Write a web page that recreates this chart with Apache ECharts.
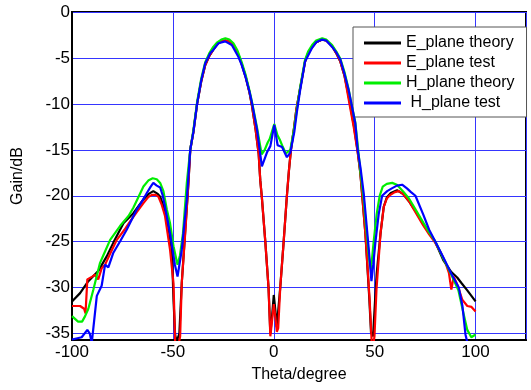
<!DOCTYPE html>
<html>
<head>
<meta charset="utf-8">
<script src="https://cdn.jsdelivr.net/npm/echarts@6/dist/echarts.min.js"></script>
<style>
  html, body { margin: 0; padding: 0; background: #fff; }
  #chart { width: 531px; height: 390px; }
</style>
</head>
<body>
<div id="chart"></div>
<script>
// [theta (deg), gain (dB)]
const ePlaneTheory = [
  [-100, -31.5], [-96, -30.6], [-91.9, -29.3], [-87, -28.2], [-82.8, -26.6], [-79.5, -25.1],
  [-74.5, -23.0], [-69.6, -21.9], [-64.6, -20.4], [-62, -19.8], [-59.7, -19.5], [-57.5, -19.8],
  [-56.3, -20.1], [-53, -22.2], [-51.5, -24.5], [-50.5, -25.9], [-49.7, -31.3], [-48.9, -35.1],
  [-48.2, -35.9], [-46.8, -35.0], [-45.6, -29.5], [-44, -24.2], [-42.3, -18.6], [-41.4, -15],
  [-39.8, -13], [-38, -10], [-36, -7.6], [-34, -5.8], [-32, -4.8], [-30, -4.1], [-28, -3.5],
  [-26, -3.2], [-24, -3.1], [-22, -3.2], [-20, -3.6], [-18, -4.4], [-16, -5.6], [-14, -7.0],
  [-12, -8.8], [-10.8, -10.2], [-9, -12.8], [-7.5, -15.4], [-6.7, -18.3], [-5.9, -20.2],
  [-4.2, -25], [-2.6, -30], [-1.7, -35.0], [-0.8, -33.0], [0, -30.8], [0.8, -32.5],
  [1.5, -34.3], [2.2, -34.2], [3.2, -30], [4.9, -25], [6.5, -20], [7.5, -17.3], [8.5, -15],
  [10, -12.7], [11.2, -10.6], [13, -8.4], [15.5, -5.4], [17, -4.5], [19, -3.8], [21, -3.3],
  [24, -3.0], [26, -3.1], [28.9, -3.7], [31, -4.5], [33, -5.4], [35, -6.9], [36.5, -8.5],
  [37.8, -10], [39.8, -12.5], [41.6, -15.2], [42.9, -17.5], [45.4, -24.1], [47.3, -31.0],
  [48.2, -34.9], [49.2, -35.3], [50.3, -31.0], [51, -28.5], [52.9, -24.1], [54.5, -21.2],
  [56, -20.2], [58, -19.7], [61.1, -19.4], [64, -19.8], [67, -20.6], [70, -21.6], [74, -23.0],
  [77, -24.0], [80, -25.0], [84, -27.0], [88, -28.3], [90.9, -28.9], [93, -29.5], [95.9, -30.3],
  [100, -31.5]
];
const ePlaneTest = [
  [-100, -32.0], [-96, -32.0], [-94, -32.3], [-93.3, -32.8], [-92.4, -29.1], [-90, -28.8],
  [-88.6, -28.6], [-87, -29.1], [-85.3, -27.9], [-83.6, -27.5], [-80, -25.8], [-77.8, -24.8],
  [-74, -23.7], [-71.2, -22.8], [-68, -21.8], [-64.6, -20.8], [-62, -20.1], [-60.4, -19.9],
  [-58.5, -19.9], [-57.2, -20.1], [-55.5, -21.0], [-53.9, -22.2], [-51.4, -25.9], [-49.7, -29.5],
  [-48.9, -35.8], [-47.5, -36.5], [-46.4, -35.3], [-45.6, -29.5], [-43.9, -24.1], [-42.3, -18.6],
  [-41.4, -15], [-39.8, -13], [-38, -10], [-36, -7.6], [-34, -5.8], [-32, -4.8], [-30, -4.1],
  [-28, -3.5], [-26, -3.2], [-24, -3.1], [-22, -3.2], [-20, -3.6], [-18, -4.4], [-16, -5.6],
  [-14, -7.0], [-12, -8.8], [-10.8, -10.2], [-9, -12.8], [-7.5, -15.4], [-6.7, -18.3],
  [-5.9, -20.2], [-4.2, -25], [-2.6, -30], [-1.7, -35.3], [-0.8, -33.5], [0, -31.8],
  [0.8, -33.2], [1.5, -34.8], [2.2, -34.4], [3.2, -30], [4.9, -25], [6.5, -20], [7.5, -17.3],
  [8.5, -15], [10, -12.7], [11.2, -10.6], [13, -8.4], [15.5, -5.4], [17, -4.5], [19, -3.8],
  [21, -3.3], [24, -3.0], [26, -3.1], [28.9, -3.7], [31, -4.5], [33, -5.4], [35, -6.9],
  [36.3, -8.5], [37.5, -10], [39.6, -12.5], [41.6, -15.3], [42.9, -17.5], [45.4, -24.1],
  [47.5, -31.3], [48.5, -35.8], [49.2, -36.5], [49.9, -35.3], [50.9, -30.2], [52.9, -24.1],
  [54.5, -21.2], [56, -20.3], [57.8, -19.9], [60, -19.6], [62, -19.5], [64, -19.8], [67, -20.6],
  [70, -21.7], [74, -23.2], [77, -24.2], [80, -25.1], [83, -26.3], [85.1, -27.3], [86.8, -28.4],
  [88, -30.2], [89.2, -28.8], [91, -29.7], [93.4, -31.3], [95.9, -32.0], [98, -32.1], [100, -32.6]
];
const hPlaneTheory = [
  [-100, -33.1], [-97, -33.7], [-95, -33.7], [-93.5, -33.1], [-91.9, -32.3], [-89.4, -30.2],
  [-86.1, -27.3], [-84.5, -26.5], [-81.1, -24.8], [-76.2, -23.3], [-72, -22.2], [-69.6, -21.3],
  [-67, -20.1], [-64.6, -19.0], [-62, -18.3], [-60, -18.1], [-58, -18.2], [-56.3, -18.6],
  [-54.7, -19.5], [-53, -21.5], [-51.4, -23.0], [-49.7, -25.5], [-47.7, -27.5], [-46.5, -26.5],
  [-45, -24.1], [-43.1, -18.6], [-41.4, -15], [-39.8, -12.8], [-38, -9.8], [-36, -7.3],
  [-34, -5.5], [-32, -4.5], [-30, -3.8], [-28, -3.3], [-26, -3.0], [-24, -2.85], [-22, -3.0],
  [-20, -3.4], [-18, -4.2], [-16, -5.4], [-14, -6.8], [-12, -8.6], [-10.8, -9.8], [-8.3, -12.6],
  [-6, -15.5], [-4.5, -15.0], [-3, -14.2], [-2, -13.8], [0.25, -12.2], [1.8, -13.4], [3, -13.9],
  [4.5, -14.7], [6, -15.4], [8.2, -15.0], [10, -12.8], [11.5, -10.5], [13, -8.3], [15.5, -5.2],
  [17, -4.3], [19, -3.6], [21, -3.1], [24, -2.85], [26, -3.0], [28.9, -3.6], [31, -4.3],
  [33, -5.1], [35, -6.5], [37.1, -8.4], [38.5, -10], [40.4, -12.0], [41.6, -14.5], [43, -17.5],
  [44.6, -20.5], [46, -24], [47.3, -27.0], [48.2, -28.0], [49.5, -25], [51, -22], [52.5, -20],
  [54, -19], [56, -18.7], [58.7, -18.6], [61, -18.8], [64, -19.5], [67, -20.3], [70, -21.4],
  [74, -22.9], [77, -24.0], [80.1, -25.0], [84, -26.8], [88, -28.6], [91.5, -30.3], [93.5, -32.3],
  [95.9, -34.6], [97.9, -35.4], [100, -35.1]
];
const hPlaneTest = [
  [-100, -35.65], [-95.2, -35.4], [-92.4, -34.6], [-91.2, -35.0], [-90.2, -36.0], [-87.7, -30.9],
  [-85.3, -29.8], [-83.6, -27.5], [-82, -27.8], [-79.5, -26.2], [-76, -24.9], [-72.9, -23.7],
  [-67.9, -21.5], [-65, -20.5], [-62.9, -19.7], [-61, -19.0], [-59.7, -18.6], [-58, -18.9],
  [-56.3, -19.1], [-55, -20], [-53.9, -21.2], [-51.4, -24.1], [-49, -27.5], [-47.7, -28.8],
  [-45.6, -25.9], [-43.1, -20.4], [-41.4, -15], [-39.8, -13.0], [-38, -10], [-36, -7.5],
  [-34, -5.6], [-33.2, -5.4], [-31.5, -4.5], [-29.9, -4.1], [-27.4, -3.4], [-24.1, -3.2],
  [-20.8, -3.6], [-17.5, -4.9], [-16, -5.7], [-14.1, -7.0], [-12, -8.7], [-10.8, -9.9],
  [-8.3, -12.8], [-5.9, -16.8], [-3.4, -15.3], [-1.7, -14.6], [0.25, -12.3], [1.9, -14.5],
  [4.1, -14.7], [6.5, -15.8], [8.2, -15.3], [10.2, -13], [11.5, -10.8], [13, -8.6], [15.5, -5.4],
  [19, -3.9], [21, -3.3], [23.9, -3.0], [26, -3.1], [28.9, -3.8], [31, -4.4], [33, -5.2],
  [35, -6.7], [37.1, -8.5], [38.5, -10], [40.4, -12.1], [41.6, -15], [43, -17], [44.6, -19.8],
  [46, -23.2], [47.1, -25.9], [48.4, -29.3], [49.3, -27.5], [50.4, -25], [52, -22], [53.7, -20],
  [56.2, -19.5], [58.5, -19.2], [61, -18.9], [63.6, -18.8], [66, -19.2], [68, -19.6], [70.2, -20],
  [74, -22.0], [77, -23.7], [80.1, -25.0], [84, -26.7], [88, -28.5], [91.7, -30.0], [93.5, -32],
  [95, -35.1], [96.5, -36.5], [98, -36.5], [100, -36.2]
];

const seriesNames = ['E_plane theory', 'E_plane test', 'H_plane theory', ' H_plane test'];
const seriesColors = ['#000000', '#ff0000', '#00ee00', '#0000ff'];
const seriesData = [ePlaneTheory, ePlaneTest, hPlaneTheory, hPlaneTest];

const fontFamily = '"Liberation Sans", Arial, sans-serif';

const chart = echarts.init(document.getElementById('chart'), null, { renderer: 'canvas' });

const option = {
  animation: false,
  backgroundColor: '#fff',
  textStyle: { fontFamily },
  grid: {
    left: 72,
    right: 5,
    top: 12,
    bottom: 50,
    show: true,
    borderColor: '#000',
    borderWidth: 2,
    backgroundColor: '#fff'
  },
  legend: {
    orient: 'vertical',
    left: 353,
    top: 27,
    icon: 'rect',
    itemWidth: 37,
    itemHeight: 3,
    itemGap: 4,
    padding: [8, 12, 6, 11],
    borderColor: '#555',
    borderWidth: 1,
    backgroundColor: '#fff',
    textStyle: { fontSize: 16, color: '#000', lineHeight: 16, fontFamily },
    data: seriesNames
  },
  xAxis: {
    type: 'value',
    min: -100,
    max: 125,
    interval: 50,
    name: 'Theta/degree',
    nameLocation: 'middle',
    nameGap: 27,
    nameTextStyle: { fontSize: 16, color: '#000' },
    axisLine: { onZero: false, lineStyle: { color: '#000', width: 2 } },
    axisTick: { show: false },
    axisLabel: { fontSize: 17, color: '#000', margin: 4, showMaxLabel: false },
    splitLine: { lineStyle: { color: '#3535ff', width: 1 } }
  },
  yAxis: {
    type: 'value',
    min: -35.7,
    max: 0,
    splitNumber: 7,
    name: 'Gain/dB',
    nameLocation: 'middle',
    nameGap: 46,
    nameTextStyle: { fontSize: 16, color: '#000' },
    axisLine: { onZero: false, lineStyle: { color: '#000', width: 2 } },
    axisTick: { show: false },
    axisLabel: { fontSize: 17, color: '#000', margin: 2, showMinLabel: false },
    splitLine: { lineStyle: { color: '#3535ff', width: 1 } }
  },
  series: seriesNames.map((name, i) => ({
    name,
    type: 'line',
    data: seriesData[i],
    symbol: 'none',
    clip: true,
    color: seriesColors[i],
    lineStyle: { width: 2.2, color: seriesColors[i] },
    z: 2 + i
  }))
};

chart.setOption(option);
</script>
</body>
</html>
